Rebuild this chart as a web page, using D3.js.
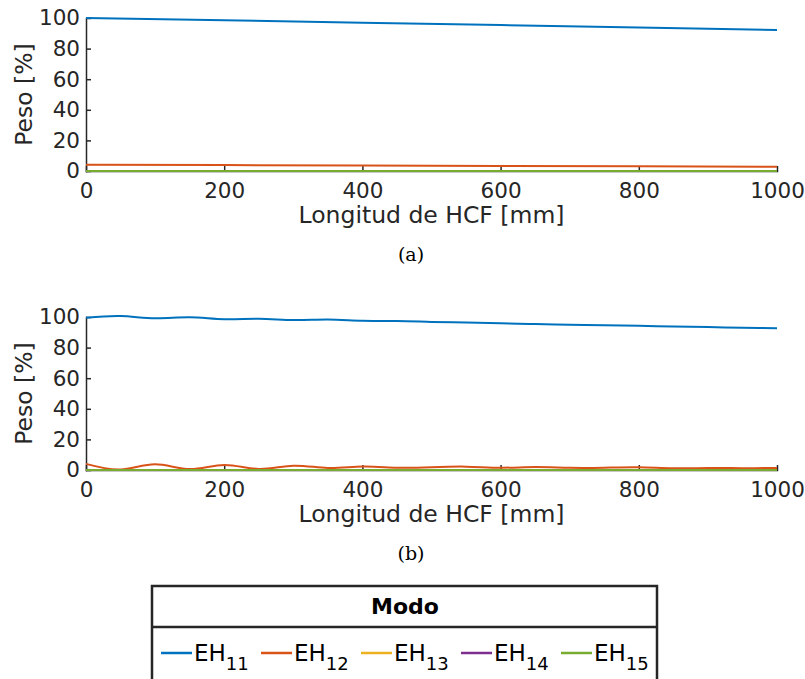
<!DOCTYPE html>
<html lang="es">
<head>
<meta charset="UTF-8">
<title>Peso de modos vs longitud de HCF</title>
<script src="https://cdn.jsdelivr.net/npm/d3@7/dist/d3.min.js"></script>
<style>
    body { margin: 0; background: #fff; }
    svg text { font-family: "DejaVu Sans", sans-serif; fill: #262626; }
    .axis path, .axis line { stroke: #262626; stroke-width: 1.5; }
    .caption { font-family: "DejaVu Serif", "Liberation Serif", serif; }
</style>
</head>
<body>
<svg id="chart" width="805" height="679"></svg>
<script>
    // data
    let modes = ['11', '12', '13', '14', '15'];
    let colours = ['#0072BD', '#D95319', '#EDB120', '#7E2F8E', '#77AC30'];
    let xTicks = [0, 200, 400, 600, 800, 1000];
    let yTicks = [0, 20, 40, 60, 80, 100];

    // (a)
    let xA = [0, 200, 400, 600, 800, 1000];
    let eh11A = [100, 98.5, 96.9, 95.4, 93.8, 92.2];
    let eh12A = [4.1, 3.85, 3.6, 3.3, 3.05, 2.8];
    let eh13A = [0, 0, 0, 0, 0, 0];
    let eh14A = [0, 0, 0, 0, 0, 0];
    let eh15A = [0, 0, 0, 0, 0, 0];

    // (b)
    let xB = [0, 50, 100, 150, 200, 250, 300, 350, 400, 450, 500, 550, 600, 650, 700, 750, 800, 850, 900, 950, 1000];
    let eh11B = [99.5, 100.6, 99.2, 99.8, 98.5, 98.9, 98.0, 98.3, 97.5, 97.4, 96.8, 96.4, 95.9, 95.4, 95.0, 94.6, 94.2, 93.8, 93.4, 93.0, 92.6];
    let eh12B = [4.0, 0.4, 3.7, 0.6, 3.3, 0.7, 2.8, 1.3, 2.3, 1.5, 1.8, 2.2, 1.5, 1.9, 1.4, 1.5, 1.8, 1.1, 1.3, 1.2, 1.3];
    let eh13B = [0, 0, 0, 0, 0, 0, 0, 0, 0, 0, 0, 0, 0, 0, 0, 0, 0, 0, 0, 0, 0];
    let eh14B = [0, 0, 0, 0, 0, 0, 0, 0, 0, 0, 0, 0, 0, 0, 0, 0, 0, 0, 0, 0, 0];
    let eh15B = [0, 0, 0, 0, 0, 0, 0, 0, 0, 0, 0, 0, 0, 0, 0, 0, 0, 0, 0, 0, 0];

    let svg = d3.select('svg#chart');

    function panel(xs, series, top, caption, curve) {
        let xScale = d3.scaleLinear().domain([0, 1000]).range([86, 777]);
        let yScale = d3.scaleLinear().domain([0, 100]).range([top + 153, top]);
        let g = svg.append('g');

        let xAxis = g.append('g')
            .attr('class', 'axis')
            .attr('transform', 'translate(0,' + (top + 153) + ')')
            .call(d3.axisBottom(xScale).tickValues(xTicks).tickFormat(d3.format('d'))
                .tickSizeInner(-5).tickSizeOuter(0).tickPadding(12));
        xAxis.selectAll('text').style('font-size', '21.5px');

        let yAxis = g.append('g')
            .attr('class', 'axis')
            .attr('transform', 'translate(86,0)')
            .call(d3.axisLeft(yScale).tickValues(yTicks).tickSizeInner(-5).tickSizeOuter(0).tickPadding(6));
        yAxis.selectAll('text').style('font-size', '21.5px');
        g.selectAll('.axis .domain').attr('stroke-linecap', 'square');

        let line = d3.line()
            .x(function(d, i) { return xScale(xs[i]); })
            .y(function(d) { return yScale(d); })
            .curve(curve);

        g.selectAll('path.series')
            .data(series)
            .enter()
            .append('path')
            .attr('class', 'series')
            .attr('d', line)
            .attr('fill', 'none')
            .attr('stroke', function(d, i) { return colours[i]; })
            .attr('stroke-width', 2);

        g.append('text')
            .attr('x', 431.5)
            .attr('y', top + 205)
            .attr('text-anchor', 'middle')
            .style('font-size', '23.5px')
            .text('Longitud de HCF [mm]');

        g.append('text')
            .attr('transform', 'translate(32,' + (top + 76.5) + ') rotate(-90)')
            .attr('text-anchor', 'middle')
            .style('font-size', '23.5px')
            .text('Peso [%]');

        g.append('text')
            .attr('class', 'caption')
            .attr('x', 411)
            .attr('y', top + 243)
            .attr('text-anchor', 'middle')
            .style('font-size', '19px')
            .style('fill', '#000')
            .text(caption);
    }

    panel(xA, [eh11A, eh12A, eh13A, eh14A, eh15A], 18, '(a)', d3.curveLinear);
    panel(xB, [eh11B, eh12B, eh13B, eh14B, eh15B], 317, '(b)', d3.curveNatural);

    // legend
    let legend = svg.append('g');
    legend.append('rect')
        .attr('x', 152).attr('y', 586).attr('width', 505).attr('height', 110)
        .attr('fill', '#fff').attr('stroke', '#262626').attr('stroke-width', 2.5);
    legend.append('line')
        .attr('x1', 152).attr('x2', 657).attr('y1', 627).attr('y2', 627)
        .attr('stroke', '#262626').attr('stroke-width', 2.5);
    legend.append('text')
        .attr('x', 405).attr('y', 614)
        .attr('text-anchor', 'middle')
        .style('font-size', '22px').style('font-weight', 'bold').style('fill', '#000')
        .text('Modo');

    let legendX = d3.scaleBand().domain(modes).range([161, 661]);
    let items = legend.selectAll('g.item')
        .data(modes)
        .enter()
        .append('g')
        .attr('class', 'item')
        .attr('transform', function(d) { return 'translate(' + legendX(d) + ',653)'; });
    items.append('line')
        .attr('x1', 0).attr('x2', 31).attr('y1', 0).attr('y2', 0)
        .attr('stroke', function(d, i) { return colours[i]; })
        .attr('stroke-width', 2.5);
    let label = items.append('text')
        .attr('x', 33).attr('y', 8)
        .style('font-size', '23px').style('fill', '#000');
    label.append('tspan').text('EH');
    label.append('tspan').attr('dy', 9).style('font-size', '18px').text(function(d) { return d; });
</script>
</body>
</html>
